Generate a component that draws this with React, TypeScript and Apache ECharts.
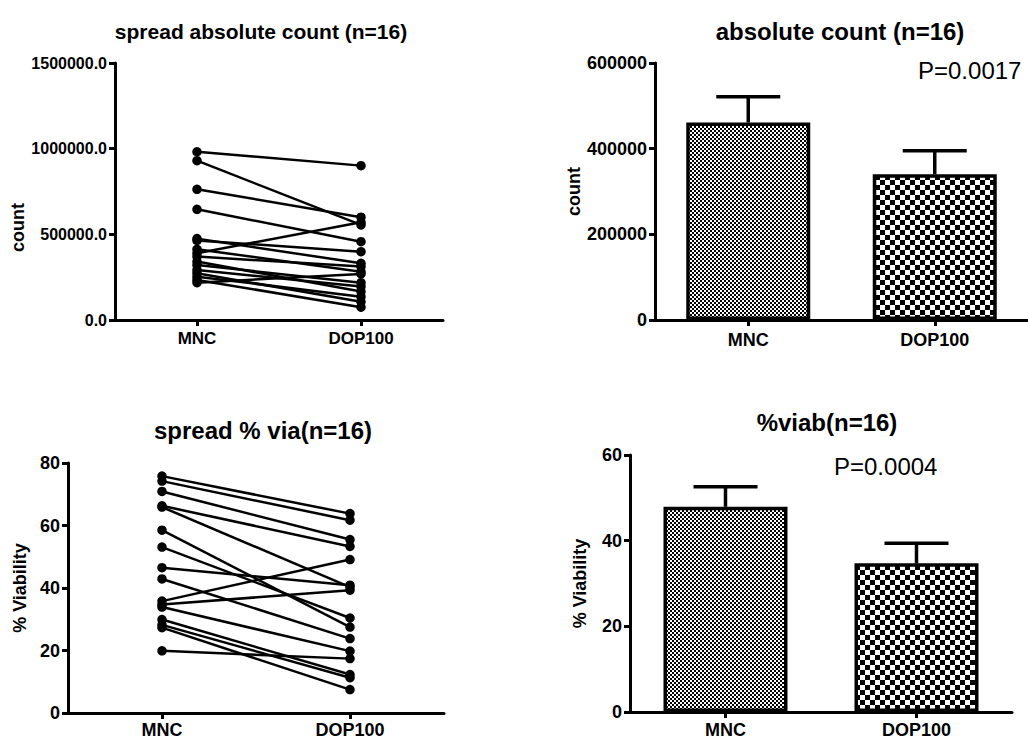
import React, { useEffect, useRef } from 'react';
import * as echarts from 'echarts';

const categories = ['MNC', 'DOP100'];

// spread absolute count (paired values)
const countMNC = [982000, 930000, 763000, 646000, 475000, 464000, 413000, 390000, 370000, 341000, 321000, 292000, 273000, 253000, 234000, 218000];
const countDOP = [901000, 555000, 600000, 457000, 331000, 399000, 282000, 570000, 312000, 166000, 218000, 195000, 107000, 136000, 75000, 269000];

// spread % viability (paired values)
const viaMNC = [75.8, 74.2, 70.9, 66.3, 65.9, 58.5, 53.1, 46.5, 42.9, 35.8, 34.7, 33.9, 29.9, 28.2, 27.3, 19.9];
const viaDOP = [63.8, 61.7, 55.5, 53.3, 40.3, 27.5, 30.4, 40.9, 23.8, 49.1, 39.3, 19.8, 12.3, 11.3, 7.5, 17.4];

// bar means and SEM
const countMean = [461000, 340000];
const countSem = [60000, 55000];
const viabMean = [47.9, 34.7];
const viabSem = [4.7, 4.7];

const countTicks = ['0.0', '500000.0', '1000000.0', '1500000.0'];

const FONT = '"Liberation Sans", Arial, sans-serif';

function checker(cell: number) {
  const c = document.createElement('canvas');
  c.width = cell * 2;
  c.height = cell * 2;
  const ctx = c.getContext('2d')!;
  ctx.fillStyle = '#fff';
  ctx.fillRect(0, 0, cell * 2, cell * 2);
  ctx.fillStyle = '#000';
  ctx.fillRect(0, 0, cell, cell);
  ctx.fillRect(cell, cell, cell, cell);
  return c;
}

export default function App() {
  const ref = useRef<HTMLDivElement>(null);
  useEffect(() => {
    if (!ref.current) return;
    const chart = echarts.init(ref.current, undefined, { renderer: 'svg' });
    const fine = checker(2);
    const coarse = checker(5);
    const patterns = [
      { image: fine, repeat: 'repeat' },
      { image: coarse, repeat: 'repeat' },
    ];

    const axisLineStyle = { color: '#000', width: 3 };
    const xAxis = (gridIndex: number, fontSize: number, margin: number) => ({
      type: 'category',
      gridIndex,
      data: categories,
      boundaryGap: true,
      axisLine: { show: true, lineStyle: axisLineStyle },
      axisTick: { show: true, alignWithLabel: true, length: 6, lineStyle: axisLineStyle },
      axisLabel: { color: '#000', fontWeight: 'bold', fontSize, margin, fontFamily: FONT },
      splitLine: { show: false },
    });
    const yAxis = (gridIndex: number, max: number, interval: number, fontSize: number, name: string, nameGap: number, formatter?: any, namePadding?: number[]) => ({
      type: 'value',
      gridIndex,
      min: 0,
      max,
      interval,
      axisLine: { show: true, lineStyle: axisLineStyle },
      axisTick: { show: true, length: 6, lineStyle: axisLineStyle },
      axisLabel: { color: '#000', fontWeight: 'bold', fontSize, margin: 8, fontFamily: FONT, formatter: formatter || ((v: number) => String(v)) },
      splitLine: { show: false },
      name,
      nameLocation: 'middle',
      nameGap,
      nameTextStyle: { color: '#000', fontWeight: 'bold', fontSize: 18, fontFamily: FONT, padding: namePadding || 0 },
    });

    const lineSeries = (a: number[], b: number[], axis: number) =>
      a.map((v, i) => ({
        type: 'line',
        xAxisIndex: axis,
        yAxisIndex: axis,
        data: [v, b[i]],
        symbol: 'circle',
        symbolSize: 9.5,
        showSymbol: true,
        itemStyle: { color: '#000' },
        lineStyle: { color: '#000', width: 2.5 },
        silent: true,
        z: 3,
      }));

    const barSeries = (means: number[], axis: number) => ({
      type: 'bar',
      xAxisIndex: axis,
      yAxisIndex: axis,
      barWidth: 124,
      data: means.map((m, i) => ({
        value: m,
        itemStyle: { color: patterns[i], borderColor: '#000', borderWidth: 3.5 },
      })),
      silent: true,
      z: 2,
    });

    const errRender = (params: any, api: any) => {
      const x = api.value(0);
      const m = api.value(1);
      const s = api.value(2);
      const base = api.coord([x, m]);
      const top = api.coord([x, m + s]);
      const half = 32;
      return {
        type: 'group',
        children: [
          { type: 'line', shape: { x1: base[0], y1: base[1], x2: top[0], y2: top[1] }, style: { stroke: '#000', lineWidth: 3.5 } },
          { type: 'line', shape: { x1: top[0] - half, y1: top[1], x2: top[0] + half, y2: top[1] }, style: { stroke: '#000', lineWidth: 3.5 } },
        ],
      };
    };
    const errSeries = (means: number[], sems: number[], axis: number) => ({
      type: 'custom',
      xAxisIndex: axis,
      yAxisIndex: axis,
      renderItem: errRender,
      data: means.map((m, i) => [i, m, sems[i]]),
      encode: { x: 0, y: 1 },
      silent: true,
      z: 4,
    });

    const titleStyle = (fontSize: number) => ({ color: '#000', fontWeight: 'bold', fontSize, fontFamily: FONT });

    chart.setOption({
      animation: false,
      textStyle: { fontFamily: FONT },
      title: [
        { text: 'spread absolute count (n=16)', left: 256, top: 16, textAlign: 'center', textStyle: titleStyle(21) },
        { text: 'absolute count (n=16)', left: 835, top: 14, textAlign: 'center', textStyle: titleStyle(24) },
        { text: 'spread % via(n=16)', left: 258, top: 413, textAlign: 'center', textStyle: titleStyle(24) },
        { text: '%viab(n=16)', left: 822, top: 405, textAlign: 'center', textStyle: titleStyle(24) },
      ],
      grid: [
        { left: 115, top: 63, width: 328, height: 257 },
        { left: 655, top: 63, width: 378, height: 257 },
        { left: 68, top: 463, width: 376, height: 250 },
        { left: 630, top: 455, width: 382, height: 257 },
      ],
      xAxis: [xAxis(0, 17, 10), xAxis(1, 18, 11), xAxis(2, 18, 8), xAxis(3, 18, 9)],
      yAxis: [
        yAxis(0, 1500000, 500000, 16, 'count', 88, (v: number) => countTicks[Math.round(v / 500000)], [0, 72, 0, 0]),
        yAxis(1, 600000, 200000, 18, 'count', 56),
        yAxis(2, 80, 20, 18, '% Viability', 39),
        yAxis(3, 60, 20, 18, '% Viability', 41),
      ],
      graphic: [
        { type: 'text', left: 918, top: 58, style: { text: 'P=0.0017', fontSize: 24, fill: '#000', fontFamily: FONT } },
        { type: 'text', left: 834, top: 454, style: { text: 'P=0.0004', fontSize: 24, fill: '#000', fontFamily: FONT } },
      ],
      series: [
        ...lineSeries(countMNC, countDOP, 0),
        barSeries(countMean, 1),
        errSeries(countMean, countSem, 1),
        ...lineSeries(viaMNC, viaDOP, 2),
        barSeries(viabMean, 3),
        errSeries(viabMean, viabSem, 3),
      ],
    });
    return () => chart.dispose();
  }, []);
  return <div ref={ref} style={{ position: 'absolute', left: 0, top: 0, width: 1028, height: 740, background: '#fff' }} />;
}
